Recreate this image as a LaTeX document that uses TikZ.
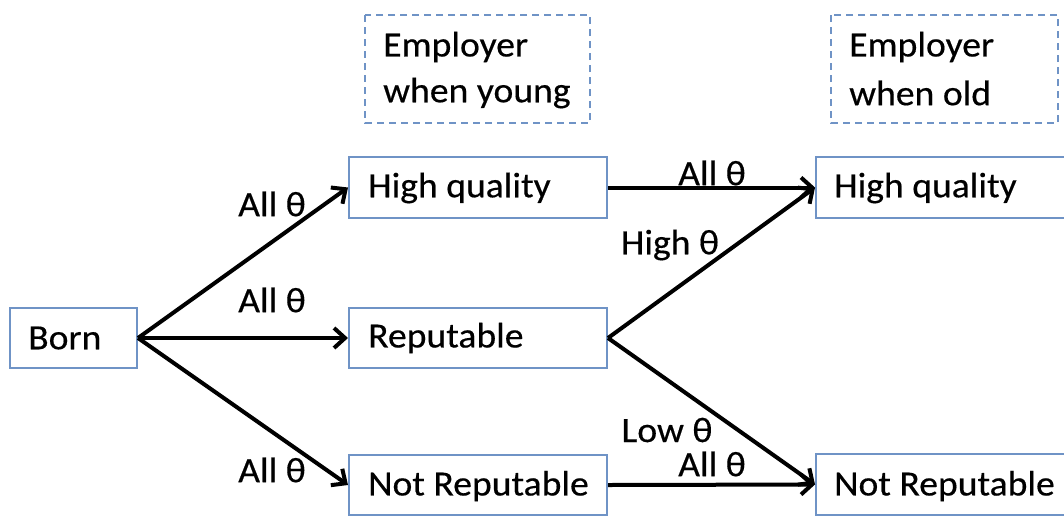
\documentclass[tikz,border=0pt]{standalone}
\usepackage{fontspec}
\setmainfont{Carlito}[FakeStretch=1.06, FakeBold=0.4]
\usetikzlibrary{arrows.meta}
\definecolor{boxblue}{HTML}{6F93C6}
\tikzset{
  x=1pt, y=-1pt,
  txt/.style={font=\fontsize{35.5}{42}\selectfont, inner sep=0pt},
  statebox/.style={draw=boxblue, line width=2pt},
  headbox/.style={draw=boxblue, line width=2pt, dash pattern=on 7pt off 5pt},
  arr/.style={line width=4pt, -{Straight Barb[length=11pt,width=20pt,line width=4pt]}},
  lbl/.style={font=\fontsize{35.5}{42}\selectfont, inner sep=0pt}
}
\begin{document}
\begin{tikzpicture}
\useasboundingbox (0,0) rectangle (1064,517);
\clip (0,0) rectangle (1064,517);
\fill[white] (0,0) rectangle (1064,517);
% header boxes
\draw[headbox] (365,15) rectangle (590,123);
\node[txt, anchor=west] (hy1) at (383,47) {Employer};
\node[txt, anchor=west] (hy2) at (383,93) {when young};
\draw[headbox] (831,15) rectangle (1058,123);
\node[txt, anchor=west] (ho1) at (849,47) {Employer};
\node[txt, anchor=west] (ho2) at (849,93) {when old};
% state boxes
\node[statebox, minimum width=127pt, minimum height=60pt] (born) at (73.5,338) {};
\node[txt, anchor=west] at (28,338) {Born};
\node[statebox, minimum width=258pt, minimum height=61pt] (hq1) at (478,187.5) {};
\node[txt, anchor=west] at (368,188) {High quality};
\node[statebox, minimum width=258pt, minimum height=60pt] (rep) at (478,338) {};
\node[txt, anchor=west] at (368,338) {Reputable};
\node[statebox, minimum width=258pt, minimum height=60pt] (nr1) at (478,485) {};
\node[txt, anchor=west] at (368,486) {Not Reputable};
\node[statebox, minimum width=300pt, minimum height=61pt] (hq2) at (966,187.5) {};
\node[txt, anchor=west] at (834,188) {High quality};
\node[statebox, minimum width=300pt, minimum height=61pt] (nr2) at (966,484.5) {};
\node[txt, anchor=west] at (834,486) {Not Reputable};
% arrows
\draw[arr] (born.east) -- (hq1.west);
\draw[arr] (born.east) -- (rep.west);
\draw[arr] (born.east) -- (nr1.west);
\draw[arr] (hq1.east) -- (hq2.west);
\draw[arr] (rep.east) -- (hq2.west);
\draw[arr] (rep.east) -- (nr2.west);
\draw[arr] (nr1.east) -- (nr2.west);
% labels
\node[lbl] (l1) at (272,204) {All θ};
\node[lbl] (l2) at (272,300) {All θ};
\node[lbl] (l3) at (272,470) {All θ};
\node[lbl] (l4) at (712,173) {All θ};
\node[lbl] (l5) at (670,245) {High θ};
\node[lbl] (l6) at (667,430) {Low θ};
\node[lbl] (l7) at (712,464) {All θ};
\end{tikzpicture}
\end{document}
